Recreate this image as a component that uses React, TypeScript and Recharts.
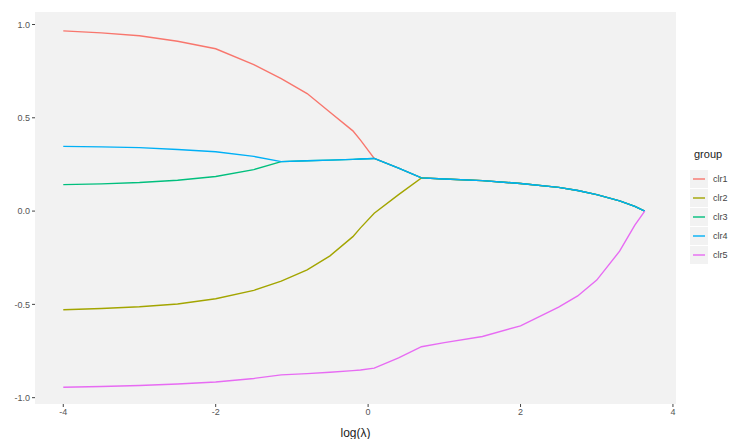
import { CartesianGrid, Line, LineChart, XAxis, YAxis } from 'recharts';

const logLambda = [-4, -3.5, -3, -2.5, -2, -1.5, -1.14, -0.8, -0.5, -0.2, -0.1, 0.08, 0.4, 0.7, 1.0, 1.5, 2.0, 2.5, 2.75, 3.0, 3.3, 3.5, 3.63];

const clr1 = [0.966, 0.955, 0.94, 0.91, 0.87, 0.785, 0.71, 0.63, 0.53, 0.43, 0.38, 0.282, 0.23, 0.178, 0.172, 0.163, 0.148, 0.127, 0.11, 0.088, 0.055, 0.025, 0];
const clr2 = [-0.529, -0.522, -0.513, -0.498, -0.47, -0.425, -0.375, -0.315, -0.24, -0.137, -0.09, -0.012, 0.088, 0.178, 0.172, 0.163, 0.148, 0.127, 0.11, 0.088, 0.055, 0.025, 0];
const clr3 = [0.142, 0.146, 0.153, 0.165, 0.185, 0.222, 0.265, 0.27, 0.273, 0.277, 0.279, 0.282, 0.23, 0.178, 0.172, 0.163, 0.148, 0.127, 0.11, 0.088, 0.055, 0.025, 0];
const clr4 = [0.347, 0.344, 0.34, 0.33, 0.318, 0.293, 0.265, 0.27, 0.273, 0.277, 0.279, 0.282, 0.23, 0.178, 0.172, 0.163, 0.148, 0.127, 0.11, 0.088, 0.055, 0.025, 0];
const clr5 = [-0.944, -0.94, -0.935, -0.927, -0.916, -0.897, -0.878, -0.871, -0.864, -0.855, -0.852, -0.842, -0.787, -0.727, -0.705, -0.672, -0.615, -0.515, -0.455, -0.37, -0.215, -0.075, 0];

const groups = ['clr1', 'clr2', 'clr3', 'clr4', 'clr5'];
const colors = ['#F8766D', '#A3A500', '#00BF7D', '#00B0F6', '#E76BF3'];
const xTicks = [-4, -2, 0, 2, 4];
const yTicks = [-1, -0.5, 0, 0.5, 1];

const series = [clr1, clr2, clr3, clr4, clr5];
const rows = logLambda.map((x, i) => {
  const row: Record<string, number> = { x };
  groups.forEach((g, j) => (row[g] = series[j][i]));
  return row;
});

const FONT = '"Liberation Sans", Arial, sans-serif';

export default function App() {
  return (
    <div style={{ position: 'absolute', left: 0, top: 0, width: 743, height: 439, background: '#fff', fontFamily: FONT }}>
      <LineChart width={743} height={439} data={rows} margin={{ top: 12, right: 67, left: 0, bottom: 0 }}>
        <CartesianGrid fill="#f2f2f2" stroke="#f2f2f2" horizontal={false} vertical={false} />
        <XAxis
          dataKey="x"
          type="number"
          domain={[-4.371, 4.04]}
          allowDataOverflow
          ticks={xTicks}
          height={35}
          axisLine={false}
          tickSize={3}
          tickLine={{ stroke: '#444' }}
          tick={{ fill: '#555', fontSize: 9, fontFamily: FONT }}
          label={{ value: 'log(λ)', position: 'insideBottom', offset: 2, fill: '#222', fontSize: 12, fontFamily: FONT }}
        />
        <YAxis
          type="number"
          domain={[-1.034, 1.067]}
          allowDataOverflow
          ticks={yTicks}
          width={35}
          axisLine={false}
          tickSize={3}
          tickLine={{ stroke: '#444' }}
          tickFormatter={(v: number) => v.toFixed(1)}
          tick={{ fill: '#555', fontSize: 9, fontFamily: FONT }}
        />
        {groups.map((g, i) => (
          <Line key={g} dataKey={g} type="linear" stroke={colors[i]} strokeWidth={1.4} dot={false} isAnimationActive={false} />
        ))}
      </LineChart>
      <div style={{ position: 'absolute', left: 694, top: 148, fontSize: 11, color: '#222' }}>group</div>
      {groups.map((g, i) => (
        <div key={g} style={{ position: 'absolute', left: 690, top: 170 + i * 19, width: 60, height: 18, display: 'flex', alignItems: 'center' }}>
          <svg width={18} height={18} style={{ display: 'block' }}>
            <rect width={18} height={18} fill="#f2f2f2" />
            <line x1={3} x2={15} y1={9} y2={9} stroke={colors[i]} strokeWidth={1.4} />
          </svg>
          <span style={{ marginLeft: 5, fontSize: 9, color: '#444' }}>{g}</span>
        </div>
      ))}
    </div>
  );
}
